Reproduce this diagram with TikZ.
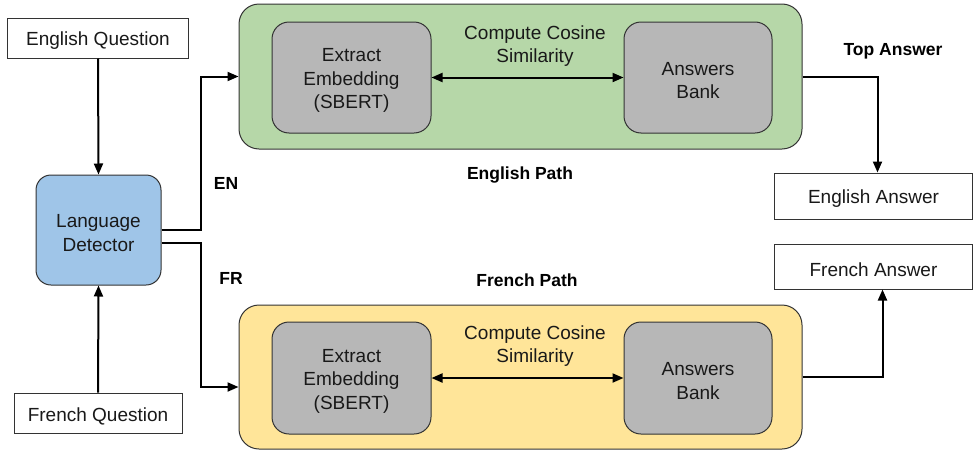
\documentclass[tikz,border=0pt]{standalone}
\usepackage{fontspec}
\setmainfont{Liberation Sans}
\usetikzlibrary{arrows.meta,calc}
\definecolor{pgreen}{HTML}{B6D7A8}
\definecolor{pyellow}{HTML}{FFE599}
\definecolor{pblue}{HTML}{9FC5E8}
\definecolor{pgray}{HTML}{B7B7B7}
\definecolor{pborder}{HTML}{333333}
\begin{document}
\begin{tikzpicture}[x=1pt,y=-1pt,
  every node/.style={font=\fontsize{19}{23.5}\selectfont, align=center, inner sep=0pt},
  txt/.style={label={[yshift=-3pt, align=center, font=\fontsize{19}{23.5}\selectfont, text=black!90]center:#1}},
  qbox/.style={draw=pborder, line width=1pt, fill=white, minimum height=40pt},
  ldbox/.style={draw=pborder, line width=1pt, fill=pblue, rounded corners=15pt, minimum width=125pt, minimum height=110pt},
  pathbox/.style={draw=pborder, line width=1pt, rounded corners=20pt, minimum width=563pt, minimum height=145pt},
  graybox/.style={draw=pborder, line width=1pt, fill=pgray, rounded corners=17pt, minimum height=111pt},
  lbl/.style={font=\bfseries\fontsize{17.5}{21}\selectfont},
  arr/.style={line width=2pt, -{Triangle[length=11pt,width=9pt]}},
  darr/.style={line width=2pt, {Triangle[length=11pt,width=9pt]}-{Triangle[length=11pt,width=9pt]}}
]
\useasboundingbox (0,0) rectangle (974,450);

\node[qbox, minimum width=181pt, txt={English Question}] (eq) at (98,38) {};
\node[ldbox, txt={Language\\Detector}] (ld) at (98.5,230) {};
\node[qbox, minimum width=168pt, txt={French Question}] (fq) at (98,413) {};

\node[pathbox, fill=pgreen] (green) at (520.5,76.5) {};
\node[graybox, minimum width=159pt, txt={Extract\\Embedding\\(SBERT)}] (ee1) at (351.5,77.5) {};
\node[graybox, minimum width=148pt, txt={Answers\\Bank}] (ab1) at (698,77.5) {};
\node[txt={Compute Cosine\\Similarity}] (cs1) at (535,43) {};

\node[pathbox, fill=pyellow, minimum height=144pt] (yellow) at (520.5,377) {};
\node[graybox, minimum width=159pt, minimum height=112pt, txt={Extract\\Embedding\\(SBERT)}] (ee2) at (351.5,378) {};
\node[graybox, minimum width=148pt, minimum height=112pt, txt={Answers\\Bank}] (ab2) at (698,378) {};
\node[txt={Compute Cosine\\Similarity}] (cs2) at (535,343) {};

\node[qbox, minimum width=198pt, minimum height=46pt, txt={English Answer}] (ea) at (873.5,196) {};
\node[qbox, minimum width=198pt, minimum height=45pt, txt={French Answer}] (fa) at (873.5,266.5) {};

\node[lbl] (en) at (226,183) {EN};
\node[lbl] (fr) at (231,278) {FR};
\node[lbl] (ep) at (520,175) {English Path};
\node[lbl] (fp) at (527,280) {French Path};
\node[lbl] (ta) at (893,51) {Top Answer};

\draw[arr] (eq.south) -- (ld.north);
\draw[arr] (fq.north) -- (ld.south);
\draw[arr] (ld.east) -- ++(39,0) |- (green.west);
\draw[arr] ($(ld.east)+(0,13)$) -- ++(39,0) |- ($(yellow.west)+(0,10)$);
\draw[darr] (ee1.east) -- (ab1.west);
\draw[darr] (ee2.east) -- (ab2.west);
\draw[arr] (green.east) -| ($(ea.north)+(4,0)$);
\draw[arr] (yellow.east) -| ($(fa.south)+(9,0)$);
\end{tikzpicture}
\end{document}
